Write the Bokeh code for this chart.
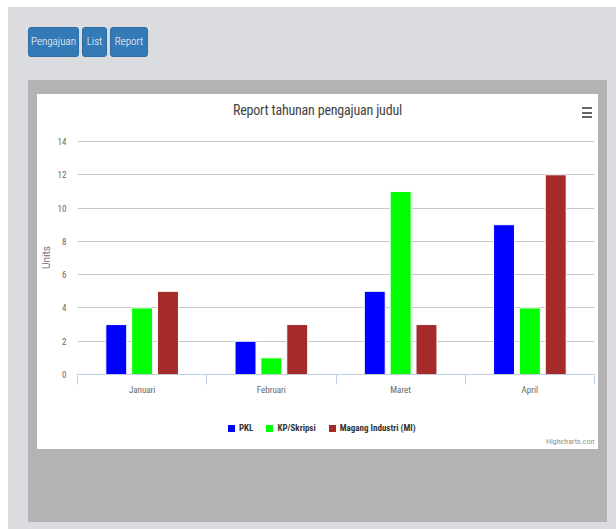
from bokeh.plotting import figure
from bokeh.models import (ColumnDataSource, FactorRange, Range1d, LinearAxis, FixedTicker,
                          SingleIntervalTicker, Legend, LegendItem, Label, Div)
from bokeh.transform import dodge
from bokeh.layouts import column
from bokeh.embed import file_html
from bokeh.resources import INLINE

# ---- data ----
categories = ["Januari", "Februari", "Maret", "April"]
pkl = [3, 2, 5, 9]
kp_skripsi = [4, 1, 11, 4]
magang = [5, 3, 3, 12]
series_names = ["PKL", "KP/Skripsi", "Magang Industri (MI)"]
series_colors = ["#0000FF", "#00FF00", "#A52A2A"]
y_ticks_interval = 2
y_max = 14
buttons = ["Pengajuan", "List", "Report"]
button_widths = [51, 25, 38]
title_text = "Report tahunan pengajuan judul"
y_label = "Units"
credit = "Highcharts.com"

FONT = "'Roboto Condensed', 'Liberation Sans Narrow', 'DejaVu Sans Condensed', Roboto, sans-serif"
HFONT = FONT.replace("'", "")

src = ColumnDataSource(dict(cat=categories, pkl=pkl, kp=kp_skripsi, mi=magang))
fields = ["pkl", "kp", "mi"]
offsets = [-0.2, 0.0, 0.2]
bar_w = 0.162

# ---- main chart ----
p = figure(x_range=FactorRange(*categories, range_padding=0, factor_padding=0),
           y_range=Range1d(0, y_max + 0.06),
           width=561, height=271, output_backend="svg", toolbar_location=None,
           x_axis_location=None, y_axis_location=None,
           min_border_left=38, min_border_right=4, min_border_top=11, min_border_bottom=26,
           background_fill_color="white", border_fill_color="white", outline_line_color=None,
           margin=0)

for field, off, color in zip(fields, offsets, series_colors):
    p.vbar(x=dodge("cat", off, range=p.x_range), top=field, width=bar_w, source=src,
           fill_color=color, line_color="white", line_width=1)

yax = LinearAxis(ticker=SingleIntervalTicker(interval=y_ticks_interval),
                 axis_line_color=None, major_tick_line_color=None, minor_tick_line_color=None,
                 major_tick_out=0, major_tick_in=0,
                 major_label_text_font=FONT, major_label_text_font_size="9px",
                 major_label_text_color="#666666", major_label_standoff=7,
                 axis_label=y_label, axis_label_text_font="Roboto",
                 axis_label_text_font_size="10px", axis_label_text_font_style="normal",
                 axis_label_text_color="#707070", axis_label_standoff=3)
p.add_layout(yax, "left")
p.ygrid.grid_line_color = "#C8C8C8"
p.ygrid.ticker = yax.ticker
p.xgrid.grid_line_color = None

# x axis: labels at category centres (synthetic coords), tick marks at category boundaries
centers = [i + 0.5 for i in range(len(categories))]
bounds = list(range(len(categories) + 1))
xax = LinearAxis(ticker=FixedTicker(ticks=centers, minor_ticks=bounds),
                 major_label_overrides={c: cat for c, cat in zip(centers, categories)},
                 axis_line_color="#C0D0E0", major_tick_line_color=None, major_tick_out=0,
                 minor_tick_line_color="#C0D0E0", minor_tick_out=10, minor_tick_in=0,
                 major_label_text_font=FONT, major_label_text_font_size="9px",
                 major_label_text_color="#666666", major_label_standoff=0)
p.add_layout(xax, "below")

# ---- legend strip: own small figure (frame aligned with the chart's frame) ----
# proxy bars use the same data but have zero width and lie outside the strip's y range,
# so only their legend swatches are visible
lg = figure(x_range=FactorRange(*categories, range_padding=0, factor_padding=0),
            y_range=Range1d(-2, -1),
            width=561, height=49, output_backend="svg", toolbar_location=None,
            x_axis_location=None, y_axis_location=None,
            min_border=0, background_fill_color="white", border_fill_color="white",
            outline_line_color=None, margin=0)
lg.xgrid.visible = False
lg.ygrid.visible = False
proxies = [lg.vbar(x=dodge("cat", off, range=lg.x_range), top=field, bottom=0, width=0,
                   source=src, fill_color=c, line_color="white", line_width=1)
           for field, off, c in zip(fields, offsets, series_colors)]
legend = Legend(items=[LegendItem(label=n, renderers=[r]) for n, r in zip(series_names, proxies)],
                orientation="horizontal", location=(149, 16),
                label_text_font=FONT, label_text_font_size="9px", label_text_font_style="bold",
                label_text_color="#333333", glyph_width=10, glyph_height=10, label_width=10,
                label_standoff=3, spacing=11, padding=2, margin=0,
                background_fill_alpha=0, border_line_color=None)
lg.add_layout(legend, "center")
lg.add_layout(Label(x=519, y=8, x_units="screen", y_units="screen", text=credit,
                    text_align="right", text_baseline="middle", text_font=FONT,
                    text_font_size="8px", text_color="#909090"))

# ---- chart title + menu icon ----
bars_html = "".join(
    f'<div style="position:absolute;left:545px;top:{t}px;width:10px;height:2px;background:#666"></div>'
    for t in (13, 18, 22))
title_div = Div(text=(
    '<div style="position:relative;width:561px;height:35px">'
    f'<div style="position:absolute;left:0;top:7px;width:561px;text-align:center;'
    f'font-family:{HFONT};font-size:14px;line-height:18px;color:#444;letter-spacing:-0.2px">{title_text}</div>'
    f'{bars_html}</div>'), width=561, height=35, margin=0)

chart_box = column(title_div, p, lg, width=561, height=355, margin=(14, 0, 0, 9), spacing=0,
                   styles={"background-color": "white"})

btn_html = "".join(
    f'<span style="display:inline-block;box-sizing:border-box;width:{w}px;text-align:center;'
    f'background:#337ab7;border:1px solid #2e6da4;border-radius:3px;color:#fff;height:30px;'
    f'line-height:28px;margin-right:3px;font-family:{HFONT};font-size:11px;font-weight:300;'
    f'overflow:hidden;white-space:nowrap">{b}</span>'
    for b, w in zip(buttons, button_widths))
btn_div = Div(text=f'<div style="white-space:nowrap;display:flex">{btn_html}</div>', width=200, height=30,
              margin=(20, 0, 0, 20))

panel = column(chart_box, width=579, height=442, margin=(23, 0, 0, 20),
               styles={"background-color": "#B3B3B3"})
page = column(btn_div, panel, width=608, height=522, spacing=0, margin=(7, 0, 0, 8),
              styles={"background-color": "#DADCE0"})

open("out.html", "w").write(file_html(page, INLINE))
